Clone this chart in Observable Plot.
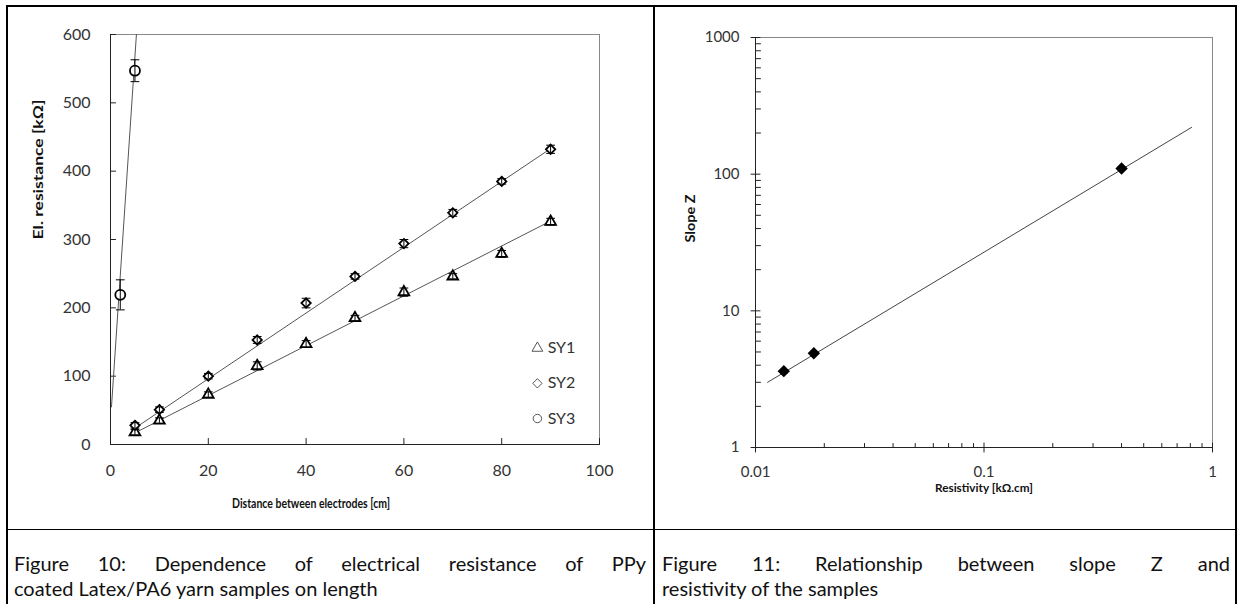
<!DOCTYPE html>
<html>
<head>
<meta charset="utf-8">
<script src="https://cdn.jsdelivr.net/npm/d3@7"></script>
<script src="https://cdn.jsdelivr.net/npm/@observablehq/plot@0.6"></script>
<style>
  body { margin: 0; background: #fff; font-family: Lato, "Open Sans", sans-serif; }
  #page { position: relative; width: 1243px; height: 604px; overflow: hidden; background: #fff; }
  .chart { position: absolute; top: 0; }
  .rule { position: absolute; background: #000; }
  .cap { position: absolute; top: 551px; font-size: 20px; line-height: 25px; color: #111; }
  .cap .l1 { text-align: justify; text-align-last: justify; }
</style>
</head>
<body>
<div id="page">
  <div id="left" class="chart" style="left:0px"></div>
  <div id="right" class="chart" style="left:654px"></div>

  <div class="rule" style="left:6px; top:5px; width:1231px; height:2px"></div>
  <div class="rule" style="left:6px; top:5px; width:2px; height:600px"></div>
  <div class="rule" style="left:1235px; top:5px; width:2px; height:600px"></div>
  <div class="rule" style="left:653px; top:5px; width:2px; height:600px"></div>
  <div class="rule" style="left:6px; top:529px; width:1231px; height:1px"></div>

  <div class="cap" style="left:14px; width:632px">
    <div class="l1">Figure 10: Dependence of electrical resistance of PPy</div>
    <div>coated Latex/PA6 yarn samples on length</div>
  </div>
  <div class="cap" style="left:662px; width:568px">
    <div class="l1">Figure 11: Relationship between slope Z and</div>
    <div>resistivity of the samples</div>
  </div>
</div>

<script>
// ---- Figure 10: resistance vs. electrode distance ----
const distance = [5, 10, 20, 30, 40, 50, 60, 70, 80, 90];
const sy1 = [18, 35, 73, 115, 147, 185, 223, 246, 279, 326];
const sy1Err = [4, 4, 4, 6, 5, 4, 6, 4, 5, 5];
const sy2 = [28, 51, 100, 153, 207, 246, 294, 339, 385, 432];
const sy2Err = [4, 4, 4, 5, 7, 4, 6, 5, 4, 6];
const sy3Distance = [2, 5];
const sy3 = [219, 547];
const sy3Err = [22, 16];

// linear trend lines (end points)
const sy1FitX = [5, 90],   sy1FitY = [17, 327];
const sy2FitX = [5, 90],   sy2FitY = [24, 433];
const sy3FitX = [0.2, 5.3], sy3FitY = [55, 600];

const seriesNames = ["SY1", "SY2", "SY3"];
const distanceTicks = [0, 20, 40, 60, 80, 100];
const resistanceTicks = [0, 100, 200, 300, 400, 500, 600];

// ---- Figure 11: slope Z vs. resistivity ----
const resistivity = [0.0133, 0.018, 0.40];
const slopeZ = [3.62, 4.9, 110];
const fitResistivity = [0.0113, 0.81];
const fitSlope = [3.0, 220];
const resistivityTicks = [0.01, 0.1, 1];
const slopeTicks = [1, 10, 100, 1000];

const font = "Lato, 'Open Sans', sans-serif";
const ink = "#222";

// plain line segment used for tick marks and error-bar caps
const segment = {
  draw(context, l) {
    context.moveTo(0, 0);
    context.lineTo(0, -l);
  }
};

function rows(xs, ys, es) {
  return xs.map((x, i) => ({x, y: ys[i], e: es[i]}));
}
function fitRows(xs, ys) {
  return xs.map((x, i) => ({x, y: ys[i]}));
}
function errorMarks(data) {
  return [
    Plot.ruleX(data, {x: "x", y1: d => d.y - d.e, y2: d => d.y + d.e, stroke: "#000", strokeWidth: 1}),
    Plot.vector(data, {x: "x", y: d => d.y + d.e, rotate: 90, length: 8, anchor: "middle", shape: segment, stroke: "#000", strokeWidth: 1}),
    Plot.vector(data, {x: "x", y: d => d.y - d.e, rotate: 90, length: 8, anchor: "middle", shape: segment, stroke: "#000", strokeWidth: 1})
  ];
}
function tickMarks(values, axis, length, anchor) {
  const opts = axis === "x"
    ? {x: d => d, frameAnchor: "bottom", rotate: 0}
    : {y: d => d, frameAnchor: "left", rotate: 90};
  return Plot.vector(values, {...opts, length, anchor, shape: segment, stroke: ink, strokeWidth: 1});
}
function minorTicks(decades) {
  return decades.flatMap(p => [2, 3, 4, 5, 6, 7, 8, 9].map(m => +(m * p).toPrecision(3)));
}
function fitText(svg, str, len) {
  svg.querySelectorAll("text").forEach(t => {
    if (t.textContent === str) {
      t.setAttribute("textLength", len);
      t.setAttribute("lengthAdjust", "spacingAndGlyphs");
    }
  });
}

const d1 = rows(distance, sy1, sy1Err);
const d2 = rows(distance, sy2, sy2Err);
const d3r = rows(sy3Distance, sy3, sy3Err);
const legendSymbols = {SY1: "triangle", SY2: "diamond2", SY3: "circle"};
const legendR = {SY1: 4, SY2: 4.2, SY3: 4.2};

const left = Plot.plot({
  width: 650, height: 530,
  marginLeft: 110, marginRight: 51, marginTop: 34, marginBottom: 86,
  style: {fontFamily: font, fontSize: "16px", color: "#333", background: "transparent", overflow: "visible"},
  x: {domain: [0, 100]},
  y: {domain: [0, 600]},
  marks: [
    Plot.frame({stroke: "#888", strokeWidth: 1}),
    Plot.axisX(distanceTicks, {tickSize: 0, tickPadding: 20, label: null, fontSize: 16}),
    Plot.axisY(resistanceTicks, {tickSize: 0, tickPadding: 20, label: null, fontSize: 16}),
    Plot.ruleY([0], {stroke: ink}),
    Plot.ruleX([0], {stroke: ink}),
    tickMarks(distanceTicks, "x", 6, "start"),
    tickMarks(resistanceTicks, "y", 5, "start"),

    // trend lines
    Plot.line(fitRows(sy1FitX, sy1FitY), {x: "x", y: "y", stroke: "#555", strokeWidth: 1}),
    Plot.line(fitRows(sy2FitX, sy2FitY), {x: "x", y: "y", stroke: "#555", strokeWidth: 1}),
    Plot.line(fitRows(sy3FitX, sy3FitY), {x: "x", y: "y", stroke: "#555", strokeWidth: 1}),

    // measurements
    Plot.dot(d1, {x: "x", y: "y", symbol: "triangle", r: 4, stroke: "#000", strokeWidth: 1.8, fill: "#fff"}),
    Plot.dot(d2, {x: "x", y: "y", symbol: "diamond2", r: 4.2, stroke: "#000", strokeWidth: 1.8, fill: "#fff"}),
    Plot.dot(d3r, {x: "x", y: "y", symbol: "circle", r: 5, stroke: "#000", strokeWidth: 1.8, fill: "#fff"}),
    ...errorMarks(d1),
    ...errorMarks(d2),
    ...errorMarks(d3r),

    // legend
    ...seriesNames.map((s, i) => Plot.dot([s], {x: () => 87.3, y: () => 141 - 51.5 * i, symbol: legendSymbols[s], r: legendR[s], stroke: "#555", strokeWidth: 1, fill: "none"})),
    Plot.text(seriesNames, {x: () => 89.4, y: (d, i) => 141 - 51.5 * i, text: d => d, textAnchor: "start", fontSize: 16, fill: "#333"}),

    // axis titles
    Plot.text(["Distance between electrodes [cm]"], {frameAnchor: "bottom", dy: 63, dx: -44, fontWeight: "bold", fontSize: 13, fill: "#111"}),
    Plot.text(["El. resistance [kΩ]"], {frameAnchor: "left", dx: -72, rotate: -90, fontWeight: "bold", fontSize: 13, fill: "#111"})
  ]
});
fitText(left, "Distance between electrodes [cm]", 158);
fitText(left, "El. resistance [kΩ]", 140);
document.getElementById("left").append(left);

const fitData = fitRows(fitResistivity, fitSlope);
const pts = fitRows(resistivity, slopeZ);
const xMinor = minorTicks([0.01, 0.1]);
const yMinor = minorTicks([1, 10, 100]);

const right = Plot.plot({
  width: 583, height: 530,
  marginLeft: 101, marginRight: 25, marginTop: 37, marginBottom: 83,
  style: {fontFamily: font, fontSize: "15px", color: "#333", background: "transparent", overflow: "visible"},
  x: {type: "log", domain: [0.01, 1]},
  y: {type: "log", domain: [1, 1000]},
  marks: [
    Plot.frame({stroke: "#888", strokeWidth: 1}),
    Plot.axisX(resistivityTicks, {tickSize: 0, tickPadding: 19, tickFormat: d => String(d), label: null, fontSize: 15}),
    Plot.axisY(slopeTicks, {tickSize: 0, tickPadding: 16, tickFormat: d => String(d), label: null, fontSize: 15}),
    Plot.ruleY([1], {stroke: ink}),
    Plot.ruleX([0.01], {stroke: ink}),
    tickMarks(resistivityTicks, "x", 9, "middle"),
    tickMarks(xMinor, "x", 4, "start"),
    tickMarks(slopeTicks, "y", 9, "middle"),
    tickMarks(yMinor, "y", 5, "start"),

    Plot.line(fitData, {x: "x", y: "y", stroke: "#444", strokeWidth: 1}),
    Plot.dot(pts, {x: "x", y: "y", symbol: "diamond2", r: 5.6, fill: "#000", stroke: "none"}),

    Plot.text(["Resistivity [kΩ.cm]"], {frameAnchor: "bottom", dy: 44, fontWeight: "bold", fontSize: 12, fill: "#111"}),
    Plot.text(["Slope Z"], {frameAnchor: "left", dx: -65, rotate: -90, fontWeight: "bold", fontSize: 13, fill: "#111"})
  ]
});
fitText(right, "Resistivity [kΩ.cm]", 98);
fitText(right, "Slope Z", 48);
document.getElementById("right").append(right);
</script>
</body>
</html>
